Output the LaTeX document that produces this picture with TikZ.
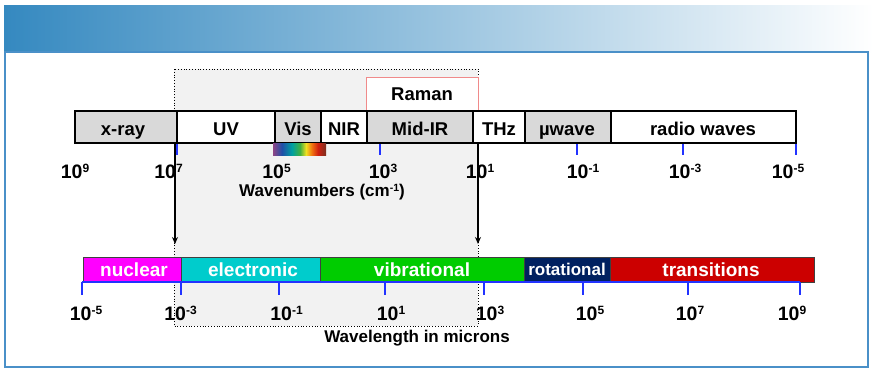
\documentclass[tikz,border=0pt]{standalone}
\usepackage{fontspec}
\setmainfont{Liberation Sans}
\usetikzlibrary{arrows.meta}

\definecolor{bandblue}{HTML}{3589C0}
\definecolor{bandmid}{HTML}{8CBADA}
\definecolor{framecol}{HTML}{4A90C8}
\definecolor{boxgray}{HTML}{F2F2F2}
\definecolor{seggray}{HTML}{D9D9D9}
\definecolor{ramanred}{HTML}{F08A8A}
\definecolor{tickblue}{HTML}{2233FF}
\definecolor{nuccol}{HTML}{FF00FF}
\definecolor{eleccol}{HTML}{00CCCC}
\definecolor{vibcol}{HTML}{00CC00}
\definecolor{rotcol}{HTML}{002060}
\definecolor{transcol}{HTML}{CC0000}
\definecolor{rbmauve}{HTML}{8E4585}
\definecolor{rbblue}{HTML}{1F4FA8}
\definecolor{rbteal}{HTML}{00A0A0}
\definecolor{rbgreen}{HTML}{40B040}
\definecolor{rbyellow}{HTML}{F0E020}
\definecolor{rborange}{HTML}{F07010}
\definecolor{rbred}{HTML}{D02010}
\definecolor{rbbrown}{HTML}{7A3020}

% power of ten label
\newcommand{\tenpow}[1]{10\raisebox{5.4pt}{\fontsize{12}{12}\selectfont #1}}

\begin{document}
\begin{tikzpicture}[x=1pt,y=-1pt,
  topseg/.style={draw=black,line width=1.2pt},
  botseg/.style={draw=black!75,line width=0.7pt},
  toplab/.style={inner sep=0pt,anchor=base,font=\fontsize{18.5}{20}\selectfont\bfseries},
  botlab/.style={inner sep=0pt,anchor=base,text=white,font=\fontsize{19}{20}\selectfont\bfseries},
  ticklab/.style={inner sep=0pt,anchor=base,font=\fontsize{19.5}{20}\selectfont\bfseries},
  axlab/.style={inner sep=0pt,anchor=base,font=\fontsize{17}{18}\selectfont\bfseries},
  bluetick/.style={draw=tickblue,line width=1.2pt},
  bigarrow/.style={line width=2.6pt,-{Stealth[length=7pt,width=6pt]}}]
  \useasboundingbox (0,0) rectangle (878,380);

  % Header band and frame
  \shade[left color=bandblue,middle color=bandmid,right color=white] (4,5) rectangle (874,52);
  \draw[framecol,line width=1.2pt] (5,52) rectangle (868,367);

  % Dotted region and Raman box
  \draw[dotted,line width=0.8pt,fill=boxgray] (174,69) rectangle (478,326);
  \draw[ramanred,line width=0.8pt,fill=white] (366,77) rectangle (478,111);
  \node[toplab] (raman) at (422,100.5) {Raman};

  % Wavenumber ticks
  \draw[bluetick] (177,143) -- (177,155);
  \draw[bluetick] (275,143) -- (275,155);
  \draw[bluetick] (380,143) -- (380,155);
  \draw[bluetick] (478,143) -- (478,155);
  \draw[bluetick] (577,143) -- (577,155);
  \draw[bluetick] (683,143) -- (683,155);
  \draw[bluetick] (796,143) -- (796,155);

  % Top bar: spectral regions
  \draw[topseg,fill=seggray] (75,111) rectangle (177,143);
  \draw[topseg,fill=white] (177,111) rectangle (275,143);
  \draw[topseg,fill=seggray] (275,111) rectangle (321,143);
  \draw[topseg,fill=white] (321,111) rectangle (367,143);
  \draw[topseg,fill=seggray] (367,111) rectangle (473,143);
  \draw[topseg,fill=white] (473,111) rectangle (525,143);
  \draw[topseg,fill=seggray] (525,111) rectangle (611,143);
  \draw[topseg,fill=white] (611,111) rectangle (796,143);
  \node[toplab] (xray) at (123,135) {x-ray};
  \node[toplab] (uv) at (226,135) {UV};
  \node[toplab] (vis) at (298,135) {Vis};
  \node[toplab] (nir) at (344,135) {NIR};
  \node[toplab] (midir) at (420,135) {Mid-IR};
  \node[toplab] (thz) at (499,135) {THz};
  \node[toplab] (mwave) at (567,135) {µwave};
  \node[toplab] (radio) at (703,135) {radio waves};

  % Visible rainbow strip
  \shade[left color=rbmauve,right color=rbblue] (273,143) rectangle (282,155);
  \shade[left color=rbblue,right color=rbteal] (282,143) rectangle (292,155);
  \shade[left color=rbteal,right color=rbgreen] (292,143) rectangle (300,155);
  \shade[left color=rbgreen,right color=rbyellow] (300,143) rectangle (306,155);
  \shade[left color=rbyellow,right color=rborange] (306,143) rectangle (312,155);
  \shade[left color=rborange,right color=rbred] (312,143) rectangle (318,155);
  \shade[left color=rbred,right color=rbbrown] (318,143) rectangle (326,155);

  % Wavenumber labels
  \node[ticklab] (kn9) at (75,178) {\tenpow{9}};
  \node[ticklab] (kn7) at (168.5,178) {\tenpow{7}};
  \node[ticklab] (kn5) at (276.5,178) {\tenpow{5}};
  \node[ticklab] (kn3) at (383,178) {\tenpow{3}};
  \node[ticklab] (kn1) at (480,178) {\tenpow{1}};
  \node[ticklab] (knm1) at (583,178) {\tenpow{-1}};
  \node[ticklab] (knm3) at (685,178) {\tenpow{-3}};
  \node[ticklab] (knm5) at (788,178) {\tenpow{-5}};
  \node[axlab] (wavenum) at (322,196) {Wavenumbers (cm\raisebox{5pt}{\fontsize{10.5}{11}\selectfont -1})};

  % Bottom bar: transition types
  \draw[botseg,fill=nuccol] (83,257) rectangle (181,282);
  \draw[botseg,fill=eleccol] (181,257) rectangle (320,282);
  \draw[botseg,fill=vibcol] (320,257) rectangle (524,282);
  \draw[botseg,fill=rotcol] (524,257) rectangle (610,282);
  \draw[botseg,fill=transcol] (610,257) rectangle (814,282);
  \node[botlab] (nuclear) at (134,276) {nuclear};
  \node[botlab] (electronic) at (253,276) {electronic};
  \node[botlab] (vibrational) at (422,276) {vibrational};
  \node[botlab,font=\fontsize{17}{18}\selectfont\bfseries] (rotational) at (567,275.5) {rotational};
  \node[botlab] (transitions) at (711,276) {transitions};

  % Wavelength axis
  \draw[bluetick] (82,282) -- (800,282);
  \draw[bluetick] (82,282) -- (82,295);
  \draw[bluetick] (181,282) -- (181,295);
  \draw[bluetick] (279,282) -- (279,295);
  \draw[bluetick] (385,282) -- (385,295);
  \draw[bluetick] (484,282) -- (484,295);
  \draw[bluetick] (583,282) -- (583,295);
  \draw[bluetick] (688,282) -- (688,295);
  \draw[bluetick] (800,282) -- (800,295);
  \node[ticklab] (wl5) at (86,320) {\tenpow{-5}};
  \node[ticklab] (wl3) at (180.5,320) {\tenpow{-3}};
  \node[ticklab] (wl1) at (286.5,320) {\tenpow{-1}};
  \node[ticklab] (wlp1) at (391,320) {\tenpow{1}};
  \node[ticklab] (wlp3) at (490,320) {\tenpow{3}};
  \node[ticklab] (wlp5) at (590,320) {\tenpow{5}};
  \node[ticklab] (wlp7) at (690,320) {\tenpow{7}};
  \node[ticklab] (wlp9) at (792,320) {\tenpow{9}};
  \node[axlab] (wavelen) at (417,342) {Wavelength in microns};

  % Mapping arrows
  \coordinate (uvstart) at (175,143);
  \coordinate (uvend) at (175,244);
  \coordinate (thzstart) at (478,143);
  \coordinate (thzend) at (478,244);
  \draw[bigarrow] (uvstart) -- (uvend);
  \draw[bigarrow] (thzstart) -- (thzend);
\end{tikzpicture}
\end{document}
